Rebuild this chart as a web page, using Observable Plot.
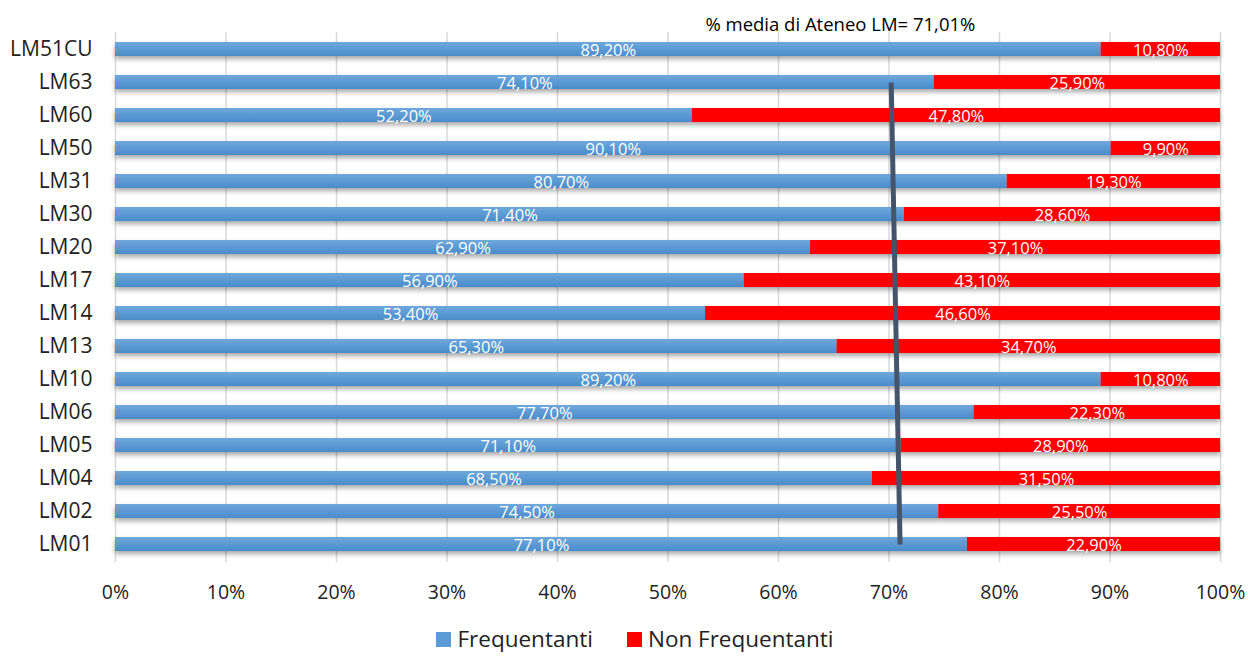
<!DOCTYPE html>
<html><head><meta charset="utf-8">
<script src="https://cdn.jsdelivr.net/npm/d3@7"></script>
<script src="https://cdn.jsdelivr.net/npm/@observablehq/plot@0.6"></script>
<style>
body{margin:0;background:#fff;font-family:"Open Sans",sans-serif;}
#wrap{position:relative;width:1248px;height:658px;overflow:hidden;}
#chart{position:absolute;left:0;top:0;}
#legend{position:absolute;left:11px;top:624px;width:1248px;text-align:center;font-size:22.5px;color:#222;line-height:30px;}
#legend span.sw{display:inline-block;width:15px;height:15px;margin-right:6px;vertical-align:0px;}
#legend .item{margin:0 17px;}
</style></head>
<body><div id="wrap">
<div id="chart"></div>
<div id="legend"></div>
</div>
<script>
const categories = ["LM51CU","LM63","LM60","LM50","LM31","LM30","LM20","LM17","LM14","LM13","LM10","LM06","LM05","LM04","LM02","LM01"];
const frequentanti = [89.2,74.1,52.2,90.1,80.7,71.4,62.9,56.9,53.4,65.3,89.2,77.7,71.1,68.5,74.5,77.1];
const nonFrequentanti = [10.8,25.9,47.8,9.9,19.3,28.6,37.1,43.1,46.6,34.7,10.8,22.3,28.9,31.5,25.5,22.9];
const seriesNames = ["Frequentanti","Non Frequentanti"];
const seriesColors = ["#5B9BD5","#FF0000"];
const seriesFills = ["url(#gBlue)","#FF0000"];
const xTicks = [0,10,20,30,40,50,60,70,80,90,100];
const avgLabel = "% media di Ateneo LM= 71,01%";
const avgLine = [{x1:70.2,x2:71.0,y1:"LM63",y2:"LM01"}];

const table = [];
categories.forEach((c,i)=>{
  table.push({cat:c, series:seriesNames[0], value:frequentanti[i]});
  table.push({cat:c, series:seriesNames[1], value:nonFrequentanti[i]});
});
const fmt = v => v.toFixed(2).replace(".",",") + "%";

const plot = Plot.plot({
  width:1248, height:610,
  marginLeft:115, marginRight:28, marginTop:32, marginBottom:48,
  style:{fontFamily:"'Open Sans',sans-serif", background:"#fff", overflow:"visible"},
  x:{domain:[0,100], ticks:xTicks, tickFormat:d=>d+"%", tickSize:0, tickPadding:23, label:null},
  y:{domain:categories, paddingInner:0.57, paddingOuter:0.285, align:0.5, tickSize:0, tickPadding:23, label:null},
  color:{domain:seriesNames, range:seriesFills},
  marks:[
    Plot.gridX(xTicks,{stroke:"#d9d9d9", strokeOpacity:1, strokeWidth:1.5}),
    Plot.barX(table, Plot.stackX({x:"value", y:"cat", fill:"series", order:seriesNames})),
    Plot.text(table, Plot.stackX({x:"value", y:"cat", z:"series", order:seriesNames, text:d=>fmt(d.value), fill:"white", fontSize:16.5, fontWeight:500, dy:1})),
    Plot.link(avgLine,{x1:"x1",x2:"x2",y1:"y1",y2:"y2", stroke:"#44546A", strokeWidth:5, strokeLinecap:"butt"}),
    Plot.text([avgLabel],{x:[65.6], frameAnchor:"top", text:d=>d, dy:-15, fontSize:18.5, fill:"#000"})
  ]
});

const svg = d3.select(plot);
const defs = svg.insert("defs",":first-child");
const g = defs.append("linearGradient").attr("id","gBlue").attr("x1",0).attr("y1",0).attr("x2",0).attr("y2",1);
g.append("stop").attr("offset","0%").attr("stop-color","#6FA8DC");
g.append("stop").attr("offset","100%").attr("stop-color","#4A8CCB");
const f = defs.append("filter").attr("id","shadow").attr("x","-5%").attr("y","-50%").attr("width","110%").attr("height","250%");
f.append("feDropShadow").attr("dx",0).attr("dy",3).attr("stdDeviation",2.5).attr("flood-color","#000").attr("flood-opacity",0.35);
svg.selectAll("g[aria-label='bar']").attr("filter","url(#shadow)");
svg.selectAll("g[aria-label='x-axis tick label']").attr("font-size",19.5).attr("fill","#222");
svg.selectAll("g[aria-label='y-axis tick label']").attr("font-size",21).attr("fill","#222");
document.getElementById("chart").appendChild(plot);

const leg = document.getElementById("legend");
seriesNames.forEach((n,i)=>{
  const s = document.createElement("span"); s.className="item";
  s.innerHTML = `<span class="sw" style="background:${seriesColors[i]}"></span>${n}`;
  leg.appendChild(s);
});
</script>
</body></html>
